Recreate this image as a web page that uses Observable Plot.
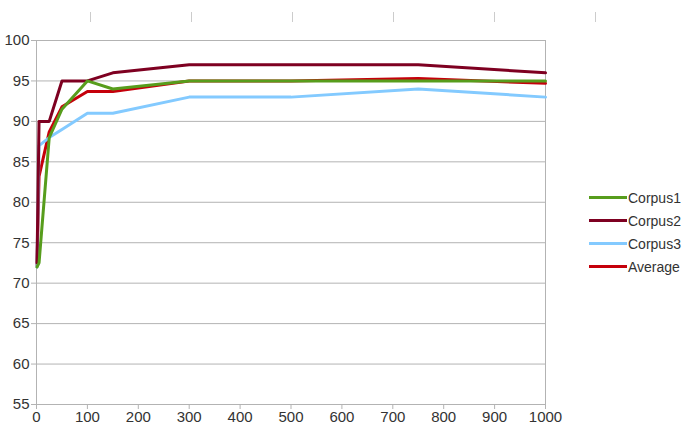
<!DOCTYPE html>
<html>
<head>
<meta charset="utf-8">
<script src="https://cdn.jsdelivr.net/npm/d3@7"></script>
<script src="https://cdn.jsdelivr.net/npm/@observablehq/plot@0.6"></script>
<style>
  html, body { margin: 0; padding: 0; background: #fff; }
  #wrap { position: relative; width: 687px; height: 435px; font-family: "Liberation Sans", sans-serif; }
  #legend { position: absolute; left: 589px; top: 186px; font-size: 14px; color: #333; }
  #legend .row { display: flex; align-items: center; height: 23px; }
  #legend .sw { width: 38px; height: 3px; margin-right: 1px; }
  #topticks { position: absolute; left: 90px; top: 12px; display: flex; }
  #topticks span { display: block; width: 1px; height: 10px; background: #ccc; margin-right: 100px; }
</style>
</head>
<body>
<div id="wrap">
  <div id="chart"></div>
  <div id="topticks"></div>
  <div id="legend"></div>
</div>
<script>
const xValues = [1, 5, 25, 50, 100, 150, 300, 500, 750, 1000];
const corpus1 = [72, 72.5, 88, 91.5, 95, 94, 95, 95, 95, 95];
const corpus2 = [72.5, 90, 90, 95, 95, 96, 97, 97, 97, 96];
const corpus3 = [72, 87, 88, 89, 91, 91, 93, 93, 94, 93];
const average = [72.2, 83.2, 88.7, 91.8, 93.7, 93.7, 95, 95, 95.3, 94.7];
const seriesNames = ["Corpus1", "Corpus2", "Corpus3", "Average"];
const seriesColors = ["#579d1c", "#7e0021", "#83caff", "#c5000b"];
const xTicks = [0, 100, 200, 300, 400, 500, 600, 700, 800, 900, 1000];
const yTicks = [55, 60, 65, 70, 75, 80, 85, 90, 95, 100];

const seriesValues = [corpus1, corpus2, corpus3, average];
const rows = [];
seriesNames.forEach((name, i) => {
  xValues.forEach((x, j) => rows.push({series: name, x, y: seriesValues[i][j]}));
});
const drawOrder = ["Average", "Corpus3", "Corpus2", "Corpus1"];

const chart = Plot.plot({
  width: 687,
  height: 435,
  marginLeft: 36,
  marginRight: 142,
  marginTop: 40,
  marginBottom: 31,
  style: {fontFamily: '"Liberation Sans", sans-serif', fontSize: "15px", color: "#333", background: "#fff"},
  x: {domain: [0, 1000]},
  y: {domain: [55, 100]},
  color: {domain: seriesNames, range: seriesColors},
  marks: [
    Plot.ruleY(yTicks, {stroke: "#b3b3b3", strokeWidth: 1}),
    Plot.ruleX([0, 1000], {stroke: "#b3b3b3", strokeWidth: 1}),
    Plot.axisY({ticks: yTicks, tickSize: 5, tickPadding: 2, stroke: "#b3b3b3", strokeOpacity: 1, label: null, fill: "#333", tickFormat: d => String(d)}),
    Plot.axisX({ticks: xTicks, tickSize: 5, tickPadding: 2, stroke: "#b3b3b3", strokeOpacity: 1, label: null, fill: "#333", tickFormat: d => String(d)}),
    ...drawOrder.map(name => Plot.line(rows.filter(d => d.series === name), {x: "x", y: "y", stroke: "series", strokeWidth: 3, strokeLinejoin: "round"}))
  ]
});
document.getElementById("chart").appendChild(chart);

const tt = document.getElementById("topticks");
for (let i = 0; i < 6; i++) tt.appendChild(document.createElement("span"));

const legend = document.getElementById("legend");
seriesNames.forEach((name, i) => {
  const r = document.createElement("div");
  r.className = "row";
  r.innerHTML = `<div class="sw" style="background:${seriesColors[i]}"></div><span>${name}</span>`;
  legend.appendChild(r);
});
</script>
</body>
</html>
